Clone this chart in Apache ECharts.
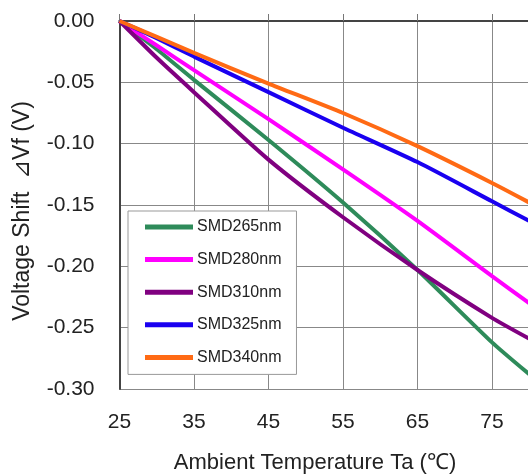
<!DOCTYPE html>
<html>
<head>
<meta charset="utf-8">
<script src="https://cdn.jsdelivr.net/npm/echarts@6/dist/echarts.min.js"></script>
<style>html,body{margin:0;padding:0;background:#fff;}#c{width:528px;height:475px;}</style>
</head>
<body>
<div id="c"></div>
<script>
const temps = [25, 30, 35, 45, 55, 65, 75, 80];
const smd265 = [0, -0.023, -0.048, -0.097, -0.148, -0.203, -0.262, -0.288];
const smd280 = [0, -0.020, -0.040, -0.080, -0.121, -0.163, -0.208, -0.230];
const smd310 = [0, -0.030, -0.058, -0.113, -0.160, -0.203, -0.242, -0.259];
const smd325 = [0, -0.014, -0.029, -0.058, -0.087, -0.115, -0.147, -0.163];
const smd340 = [0, -0.013, -0.026, -0.051, -0.075, -0.102, -0.132, -0.148];
const seriesNames = ['SMD265nm', 'SMD280nm', 'SMD310nm', 'SMD325nm', 'SMD340nm'];
const seriesColors = ['#2e8b5a', '#ff00ff', '#800080', '#1a00f0', '#ff6a14'];
const seriesValues = [smd265, smd280, smd310, smd325, smd340];

const font = '"Liberation Sans", Arial, sans-serif';
const chart = echarts.init(document.getElementById('c'), null, {renderer: 'canvas'});
chart.setOption({
  animation: false,
  backgroundColor: '#fff',
  textStyle: {fontFamily: font},
  grid: {left: 119.5, top: 21, right: -38.5, bottom: 86, containLabel: false, outerBoundsMode: 'none'},
  legend: {
    orient: 'vertical',
    left: 128, top: 211,
    icon: 'rect',
    itemWidth: 48, itemHeight: 5,
    itemGap: 14.6,
    padding: [7, 15, 8, 17],
    backgroundColor: '#fff',
    borderColor: '#999', borderWidth: 1,
    textStyle: {fontFamily: font, fontSize: 16, color: '#222', lineHeight: 18, padding: [0, 0, 0, -1]},
    data: seriesNames
  },
  xAxis: [{
    type: 'value', min: 25, max: 85, interval: 10,
    axisLine: {show: true, lineStyle: {color: '#444', width: 2}},
    axisTick: {show: false},
    axisLabel: {fontSize: 21, color: '#222', margin: 23, fontFamily: font},
    splitLine: {show: true, lineStyle: {color: '#888', width: 1}},
    name: 'Ambient Temperature Ta (℃)', nameLocation: 'middle', nameGap: 63,
    nameTextStyle: {fontSize: 22, color: '#222', fontFamily: font, padding: [0, 56, 0, 0]}
  }, {
    type: 'value', min: 25, max: 85, interval: 10, position: 'top',
    axisLine: {show: true, lineStyle: {color: '#444', width: 2}},
    axisTick: {show: true, inside: false, length: 7, lineStyle: {color: '#777', width: 1}},
    axisLabel: {show: false},
    splitLine: {show: false}
  }],
  yAxis: {
    type: 'value', min: -0.30, max: 0, interval: 0.05,
    axisLine: {show: true, lineStyle: {color: '#444', width: 2}},
    axisTick: {show: false},
    axisLabel: {fontSize: 21, color: '#222', margin: 25, fontFamily: font, formatter: v => v.toFixed(2)},
    splitLine: {show: true, lineStyle: {color: '#888', width: 1}},
    name: 'Voltage Shift  ⊿Vf (V)', nameLocation: 'middle', nameGap: 85.5,
    nameTextStyle: {fontSize: 23, color: '#222', fontFamily: font, padding: [0, 12, 0, 0]}
  },
  series: seriesNames.map((n, i) => ({
    name: n, type: 'line', smooth: 0.2, showSymbol: false, symbol: 'none',
    xAxisIndex: 0,
    lineStyle: {width: 4, color: seriesColors[i]},
    itemStyle: {color: seriesColors[i]},
    data: temps.map((t, j) => [t, seriesValues[i][j]])
  }))
});
</script>
</body>
</html>
